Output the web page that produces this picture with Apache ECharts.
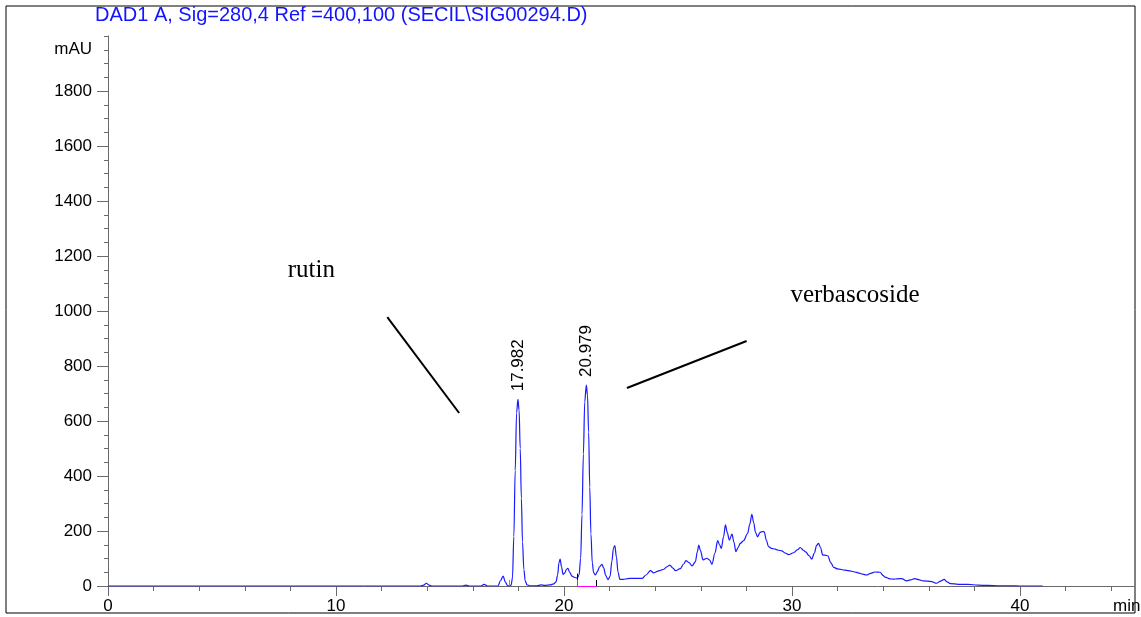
<!DOCTYPE html>
<html>
<head>
<meta charset="utf-8">
<title>DAD1 A chromatogram</title>
<script src="https://cdn.jsdelivr.net/npm/echarts@6/dist/echarts.min.js"></script>
<style>
  html, body { margin: 0; padding: 0; background: #fff; }
  #chart { width: 1141px; height: 617px; }
</style>
</head>
<body>
<div id="chart"></div>
<script>
// retention time (min) and signal (mAU)
const retentionTimes = [
  0, 13.7, 13.85, 13.96, 14.08, 14.2, 15.55, 15.7, 15.85, 16.35, 16.5, 16.65,
  17.1, 17.22, 17.33, 17.43, 17.52, 17.6, 17.68, 17.74, 17.8, 17.86, 17.92, 17.98,
  18.03, 18.08, 18.13, 18.18, 18.24, 18.3, 18.38, 18.5, 18.8, 19.0, 19.15, 19.4,
  19.55, 19.65, 19.72, 19.78, 19.83, 19.89, 19.96, 20.04, 20.1, 20.17, 20.25, 20.35,
  20.47, 20.58, 20.66, 20.73, 20.79, 20.85, 20.91, 20.979, 21.03, 21.08, 21.13, 21.18,
  21.24, 21.3, 21.38, 21.46, 21.56, 21.66, 21.74, 21.83, 21.93, 22.02, 22.1, 22.17,
  22.23, 22.3, 22.37, 22.45, 22.6, 22.8, 23.0, 23.43, 23.6, 23.79, 23.94, 24.16,
  24.38, 24.52, 24.64, 24.78, 24.89, 25.1, 25.25, 25.35, 25.48, 25.62, 25.76, 25.85,
  25.91, 25.98, 26.1, 26.27, 26.38, 26.49, 26.62, 26.74, 26.82, 26.9, 27.0, 27.08,
  27.16, 27.25, 27.37, 27.45, 27.54, 27.64, 27.73, 27.88, 28.05, 28.15, 28.24, 28.32,
  28.4, 28.49, 28.6, 28.68, 28.78, 28.88, 28.97, 29.1, 29.26, 29.41, 29.55, 29.7,
  29.85, 30.07, 30.25, 30.36, 30.5, 30.6, 30.75, 30.87, 30.98, 31.08, 31.16, 31.25,
  31.35, 31.45, 31.57, 31.7, 31.83, 32.0, 32.32, 32.47, 32.76, 32.9, 33.1, 33.27,
  33.45, 33.64, 33.86, 34.0, 34.08, 34.3, 34.44, 34.62, 34.81, 35.03, 35.2, 35.39,
  35.55, 35.75, 36.12, 36.34, 36.52, 36.67, 36.8, 36.95, 37.29, 37.72, 38.16, 38.6,
  39.04, 39.6, 40.0, 41.0
];
const absorbance = [
  0, 0, 3, 10, 3, 0, 0, 3, 0, 0, 6, 0,
  0, 20, 36, 14, 2, 0, 3, 30, 180, 420, 630, 679,
  640, 500, 320, 160, 60, 18, 4, 1, 1, 4, 2, 4,
  8, 15, 40, 85, 98, 70, 42, 48, 60, 64, 50, 36,
  31, 29, 40, 100, 260, 480, 670, 731, 695, 560, 360, 190,
  85, 48, 40, 52, 70, 79, 66, 38, 23, 35, 90, 138,
  147, 105, 50, 24, 24, 27, 28, 28, 40, 56, 48, 55,
  61, 70, 76, 65, 56, 63, 80, 92, 85, 73, 88, 125,
  149, 130, 95, 101, 95, 79, 120, 165, 150, 137, 180, 222,
  195, 167, 189, 160, 125, 140, 155, 165, 191, 225, 261, 230,
  195, 179, 195, 198, 197, 165, 143, 137, 134, 130, 128, 120,
  114, 121, 132, 140, 130, 124, 110, 98, 120, 148, 155, 140,
  112, 112, 110, 85, 68, 62, 58, 56, 51, 48, 43, 40,
  46, 51, 50, 38, 32, 26, 25, 26, 27, 19, 22, 27,
  23, 19, 16, 10, 18, 24, 15, 9, 6, 6, 3, 2,
  1, 1, 0, 0
];

// labelled peaks
const peakTimes = [17.982, 20.979];
const peakHeights = [679, 731];

// axis ticks
const xLabelValues = [0, 10, 20, 30, 40];
const xMinorValues = [2, 4, 6, 8, 12, 14, 16, 18, 22, 24, 26, 28, 32, 34, 36, 38, 42, 44];
const yLabelValues = [0, 200, 400, 600, 800, 1000, 1200, 1400, 1600, 1800];
const yMinorValues = [50, 100, 150, 250, 300, 350, 450, 500, 550, 650, 700, 750, 850, 900, 950,
  1050, 1100, 1150, 1250, 1300, 1350, 1450, 1500, 1550, 1650, 1700, 1750, 1850, 1900, 1950, 2000];
const yUnitAt = 1950;

// annotations (in data coordinates)
const rutinLine = [[12.25, 978], [15.4, 629]];
const verbLine = [[22.76, 720], [28.01, 891]];
const rutinText = [7.88, 1149];
const verbText = [29.93, 1055];
const baselineStart = 20.58;
const baselineEnd = 21.43;

const chart = echarts.init(document.getElementById('chart'));

const font = 'Liberation Sans, Arial, sans-serif';
const axisGrey = '#6a6a6a';

const trace = retentionTimes.map((t, i) => [t, absorbance[i]]);

chart.setOption({
  animation: false,
  backgroundColor: '#fff',
  title: {
    text: 'DAD1 A, Sig=280,4 Ref =400,100 (SECIL\\SIG00294.D)',
    left: 90,
    top: 0,
    textStyle: { color: '#1414ff', fontSize: 20, fontWeight: 'normal', fontFamily: font }
  },
  graphic: [{
    type: 'rect',
    shape: { x: 6, y: 6, width: 1129, height: 607 },
    style: { fill: 'none', stroke: '#000', lineWidth: 1 },
    silent: true
  }],
  grid: { left: 108, right: 7, top: 36, bottom: 31, outerBoundsMode: 'none' },
  xAxis: [{
    type: 'value',
    position: 'bottom',
    min: 0,
    max: 45,
    name: 'min',
    nameLocation: 'end',
    nameGap: -21,
    nameTextStyle: { color: '#000', fontSize: 17, fontFamily: font, verticalAlign: 'top', padding: [12, 0, 0, 0] },
    axisLine: { onZero: false, lineStyle: { color: axisGrey, width: 1 } },
    axisTick: { customValues: xLabelValues, length: 10, lineStyle: { color: axisGrey } },
    axisLabel: { customValues: xLabelValues, color: '#000', fontSize: 17, fontFamily: font, margin: 12 },
    splitLine: { show: false }
  }, {
    type: 'value',
    position: 'bottom',
    min: 0,
    max: 45,
    axisLine: { show: false, onZero: false },
    axisTick: { customValues: xMinorValues, length: 5, lineStyle: { color: axisGrey } },
    axisLabel: { show: false },
    splitLine: { show: false }
  }],
  yAxis: [{
    type: 'value',
    position: 'left',
    min: 0,
    max: 2000,
    axisLine: { show: true, onZero: false, lineStyle: { color: axisGrey, width: 1 } },
    axisTick: { show: true, customValues: yLabelValues, length: 11, lineStyle: { color: axisGrey } },
    axisLabel: {
      customValues: yLabelValues.concat([yUnitAt]),
      formatter: v => (v === yUnitAt ? 'mAU' : String(v)),
      color: '#000', fontSize: 17, fontFamily: font, margin: 16
    },
    splitLine: { show: false }
  }, {
    type: 'value',
    position: 'left',
    min: 0,
    max: 2000,
    axisLine: { show: false, onZero: false },
    axisTick: { show: true, customValues: yMinorValues, length: 4, lineStyle: { color: axisGrey } },
    axisLabel: { show: false },
    splitLine: { show: false }
  }],
  series: [{
    type: 'line',
    data: trace,
    xAxisIndex: 0,
    yAxisIndex: 0,
    showSymbol: false,
    smooth: 0.35,
    smoothMonotone: 'x',
    lineStyle: { color: '#1a1aff', width: 1.2 },
    markPoint: {
      silent: true,
      symbolSize: 0,
      data: peakTimes.map((t, i) => ({
        coord: [t, peakHeights[i]],
        label: {
          show: true,
          formatter: String(t),
          position: 'top',
          distance: 8,
          rotate: 90,
          align: 'left',
          verticalAlign: 'middle',
          color: '#000',
          fontSize: 17,
          fontFamily: font
        }
      })).concat([
        {
          coord: rutinText,
          label: { show: true, formatter: 'rutin', position: 'right', distance: 0,
            color: '#000', fontSize: 25, fontFamily: 'Liberation Serif, Times New Roman, serif' }
        },
        {
          coord: verbText,
          label: { show: true, formatter: 'verbascoside', position: 'right', distance: 0,
            color: '#000', fontSize: 25, fontFamily: 'Liberation Serif, Times New Roman, serif' }
        }
      ])
    },
    markLine: {
      silent: true,
      symbol: ['none', 'none'],
      label: { show: false },
      data: [
        [{ coord: rutinLine[0], lineStyle: { color: '#000', width: 2, type: 'solid' } }, { coord: rutinLine[1] }],
        [{ coord: verbLine[0], lineStyle: { color: '#000', width: 2, type: 'solid' } }, { coord: verbLine[1] }],
        [{ coord: [baselineStart, 0], lineStyle: { color: '#ff00ff', width: 1, type: 'solid' } }, { coord: [baselineEnd, 0] }],
        [{ coord: [baselineStart, 0], lineStyle: { color: '#ff00ff', width: 1, type: 'solid' } }, { coord: [baselineStart, 22] }],
        [{ coord: [baselineStart, 22], lineStyle: { color: '#000', width: 1, type: 'solid' } }, { coord: [baselineStart, 45] }],
        [{ coord: [baselineEnd, 0], lineStyle: { color: '#000', width: 1, type: 'solid' } }, { coord: [baselineEnd, 22] }],
        [{ coord: [17.62, 0], lineStyle: { color: '#888', width: 1, type: 'solid' } }, { coord: [17.62, 22] }]
      ]
    }
  }]
});

window.addEventListener('resize', () => {
  chart.resize();
});
</script>
</body>
</html>
